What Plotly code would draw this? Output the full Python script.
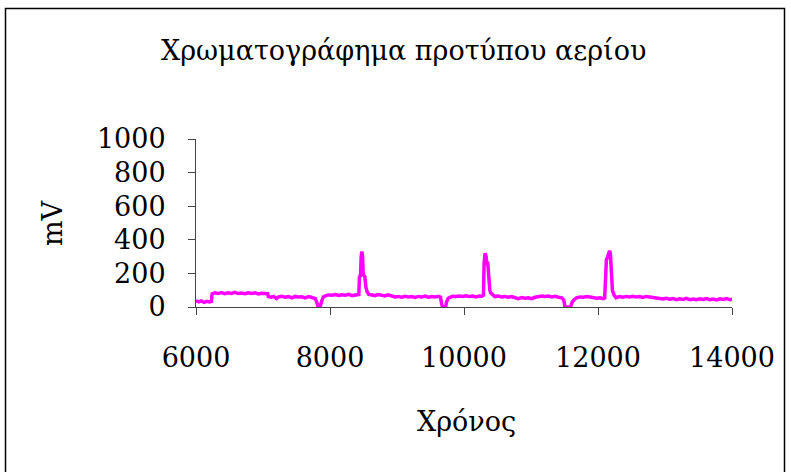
import plotly.graph_objects as go

# Chromatogram trace (time, mV)
time = [6000, 6040, 6080, 6120, 6160, 6200, 6230,
        6240, 6280, 6330, 6380, 6430, 6480, 6530, 6580, 6630, 6680, 6730, 6780, 6830, 6880, 6930, 6980, 7030, 7070,
        7080, 7120, 7160, 7200, 7230, 7280, 7330, 7380, 7430, 7480, 7530, 7580, 7630, 7680, 7720, 7780,
        7800, 7820, 7840, 7860, 7880, 7900, 7940, 7980, 8030, 8080, 8130, 8180, 8230, 8280, 8330, 8380, 8430,
        8440, 8455, 8465, 8475, 8485, 8495, 8510, 8520, 8535, 8555, 8580, 8620, 8670, 8720, 8770, 8820, 8870,
        8920, 8970, 9020, 9070, 9120, 9170, 9220, 9270, 9320, 9370, 9420, 9470, 9520, 9570, 9620, 9650,
        9665, 9680, 9700, 9725, 9740, 9760, 9790, 9830, 9880, 9930, 9980, 10030, 10080, 10130, 10180, 10230, 10270,
        10290, 10300, 10315, 10330, 10340, 10355, 10370, 10385, 10400, 10430, 10460, 10510, 10560, 10610, 10660,
        10710, 10760, 10810, 10860, 10910, 10960, 11010, 11060, 11110, 11160, 11210, 11260, 11310, 11360, 11410,
        11460, 11490, 11505, 11530, 11560, 11590, 11610, 11640, 11680, 11730, 11780, 11830, 11880, 11930, 11980,
        12030, 12080, 12100,
        12115, 12125, 12145, 12160, 12172, 12185, 12200, 12215, 12240, 12270, 12320, 12370, 12420, 12470, 12520,
        12570, 12620, 12670, 12720, 12770, 12820, 12870, 12920, 12970, 13020, 13070, 13120, 13170, 13220, 13270,
        13320, 13370, 13420, 13470, 13520, 13570, 13620, 13670, 13720, 13770, 13820, 13870, 13920, 13970, 14000]
mv = [38, 30, 36, 28, 34, 30, 33,
      78, 85, 80, 86, 79, 84, 81, 87, 80, 83, 79, 85, 80, 84, 78, 82, 80, 79,
      62, 58, 63, 50, 60, 64, 58, 62, 55, 63, 59, 61, 54, 62, 58, 50,
      30, 5, 0, 10, 40, 60, 68, 72, 70, 74, 69, 73, 70, 75, 68, 72, 74,
      180, 185, 300, 330, 310, 200, 185, 180, 120, 90, 75, 72, 68, 74, 70, 66, 72,
      68, 60, 63, 58, 64, 60, 62, 57, 63, 60, 65, 58, 62, 60, 64, 58,
      20, 0, 0, 0, 30, 50, 58, 64, 62, 66, 63, 67, 62, 65, 60, 66, 64,
      70, 260, 320, 300, 260, 260, 150, 100, 83, 70, 62, 65, 60, 63, 58,
      62, 55, 50, 56, 52, 55, 50, 58, 62, 66, 62, 65, 60, 64, 58,
      55, 40, 5, 0, 0, 0, 25, 42, 55, 60, 58, 62, 60, 56, 52,
      55, 50, 54,
      180, 280, 300, 315, 335, 320, 180, 100, 71, 55, 62, 58, 63, 60, 64,
      59, 62, 57, 63, 60, 61, 58, 55, 48, 52, 46, 50, 44, 49, 45,
      51, 44, 48, 43, 49, 45, 50, 44, 47, 42, 49, 45, 50, 44, 47]

x_ticks = [6000, 8000, 10000, 12000, 14000]
y_ticks = [0, 200, 400, 600, 800, 1000]

title_text = "Χρωματογράφημα προτύπου αερίου"
x_title = "Χρόνος"
y_title = "mV"

W, H = 791, 472
L, R, T, B = 196, 59, 139, 165
pw, ph = W - L - R, H - T - B

def px(x):
    return (x - L) / pw

def py(y):
    return (H - B - y) / ph

FONT = "DejaVu Serif"
FS = 27

fig = go.Figure()
fig.add_trace(go.Scatter(x=time, y=mv, mode="lines",
                         line=dict(color="#FF00FF", width=3.5), showlegend=False))

fig.update_layout(
    width=W, height=H,
    margin=dict(l=L, r=R, t=T, b=B),
    paper_bgcolor="white", plot_bgcolor="white",
    font=dict(family=FONT, size=FS, color="black"),
    xaxis=dict(range=[6000, 14000], tickvals=x_ticks, ticktext=[str(v) for v in x_ticks],
               showgrid=False, zeroline=False, showline=True, linecolor="#444", linewidth=1,
               ticks="outside", ticklen=7, tickcolor="#444", ticklabelstandoff=20,
               tickfont=dict(family=FONT, size=FS)),
    yaxis=dict(range=[0, 1000], tickvals=y_ticks, ticktext=[str(v) for v in y_ticks],
               showgrid=False, zeroline=False, showline=True, linecolor="#444", linewidth=1,
               ticks="outside", ticklen=7, tickcolor="#444", ticklabelstandoff=17,
               tickfont=dict(family=FONT, size=FS)),
    annotations=[
        dict(text=title_text, xref="paper", yref="paper", x=px(403.5), y=py(50),
             xanchor="center", yanchor="middle", showarrow=False,
             font=dict(family=FONT, size=FS)),
        dict(text=y_title, xref="paper", yref="paper", x=px(52), y=py(223),
             xanchor="center", yanchor="middle", showarrow=False, textangle=-90,
             font=dict(family=FONT, size=FS)),
        dict(text=x_title, xref="paper", yref="paper", x=px(466), y=py(421),
             xanchor="center", yanchor="middle", showarrow=False,
             font=dict(family=FONT, size=FS)),
    ],
    shapes=[dict(type="rect", xref="paper", yref="paper",
                 x0=px(5.5), x1=px(784.5), y0=py(490), y1=py(8.5),
                 line=dict(color="black", width=1.5), fillcolor="rgba(0,0,0,0)", layer="below")],
)

fig.write_html("out.html")
